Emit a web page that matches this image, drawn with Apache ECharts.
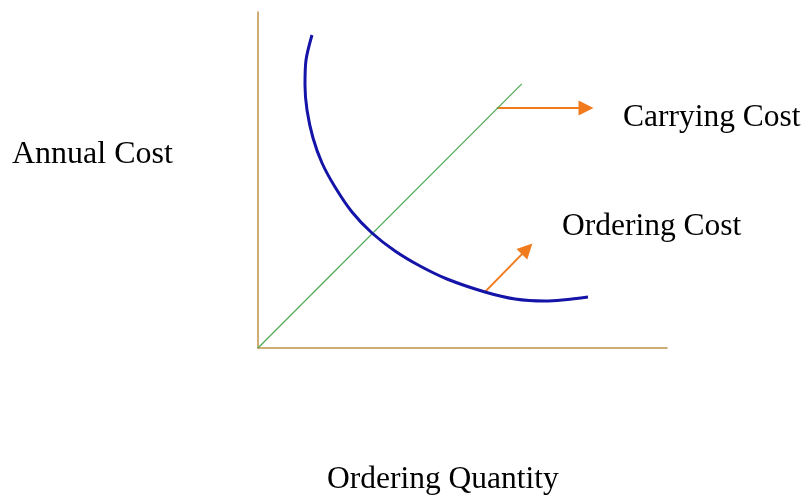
<!DOCTYPE html>
<html>
<head>
<meta charset="utf-8">
<script src="https://cdn.jsdelivr.net/npm/echarts@6/dist/echarts.min.js"></script>
<style>
  html, body { margin: 0; padding: 0; background: #fff; }
  #chart { width: 806px; height: 497px; }
</style>
</head>
<body>
<div id="chart"></div>
<script>
// ordering cost curve (quantity, cost)
var orderingQty  = [13.20, 11.74, 11.49, 11.98, 13.45, 15.65, 18.83, 22.98, 27.87, 33.50, 39.61, 46.21, 55.50, 62.84, 70.17, 80.68];
var orderingCost = [93.15, 85.71, 78.27, 70.83, 62.50, 55.06, 47.92, 40.48, 34.23, 28.87, 24.40, 20.54, 16.67, 14.58, 13.99, 15.18];
// carrying cost straight line
var carryingQty  = [0, 64.5];
var carryingCost = [0, 78.6];
// pointer arrows [from, to]
var carryingArrow = [[58.4, 71.4], [80.2, 71.4]];
var orderingArrow = [[55.5, 16.7], [65.8, 29.5]];

var labelFont = 'Liberation Serif, Times New Roman, serif';
var axisColor = '#c0924a';
var arrowColor = '#f07a1c';

function zip(xs, ys) {
    var out = [];
    for (var i = 0; i < xs.length; i++) {
        out.push([xs[i], ys[i]]);
    }
    return out;
}

var chart = echarts.init(document.getElementById('chart'));

var option = {
    backgroundColor: '#fff',
    animation: false,
    grid: {
        left: 258,
        top: 12,
        width: 409,
        height: 336
    },
    xAxis: {
        type: 'value',
        min: 0,
        max: 100,
        axisLine: { show: true, lineStyle: { color: axisColor, width: 1.5 } },
        axisTick: { show: false },
        axisLabel: { show: false },
        splitLine: { show: false }
    },
    yAxis: {
        type: 'value',
        min: 0,
        max: 100,
        axisLine: { show: true, lineStyle: { color: axisColor, width: 1.5 } },
        axisTick: { show: false },
        axisLabel: { show: false },
        splitLine: { show: false }
    },
    series: [
        {
            name: 'Carrying Cost',
            type: 'line',
            symbol: 'none',
            data: zip(carryingQty, carryingCost),
            lineStyle: { color: '#4fa84f', width: 1.2 }
        },
        {
            name: 'Ordering Cost',
            type: 'line',
            symbol: 'none',
            smooth: 0.3,
            data: zip(orderingQty, orderingCost),
            lineStyle: { color: '#1414a8', width: 3 }
        },
        {
            type: 'lines',
            coordinateSystem: 'cartesian2d',
            symbol: ['none', 'triangle'],
            symbolSize: 15,
            lineStyle: { color: arrowColor, width: 2, opacity: 1 },
            data: [
                { coords: carryingArrow },
                { coords: orderingArrow }
            ]
        }
    ],
    graphic: [
        {
            type: 'text', left: 12, top: 139,
            style: { text: 'Annual Cost', font: '32px ' + labelFont, fill: '#000' }
        },
        {
            type: 'text', left: 623, top: 102,
            style: { text: 'Carrying Cost', font: '31.5px ' + labelFont, fill: '#000' }
        },
        {
            type: 'text', left: 562, top: 211,
            style: { text: 'Ordering Cost', font: '31.5px ' + labelFont, fill: '#000' }
        },
        {
            type: 'text', left: 327, top: 464,
            style: { text: 'Ordering Quantity', font: '31.5px ' + labelFont, fill: '#000' }
        }
    ]
};

chart.setOption(option);
</script>
</body>
</html>
